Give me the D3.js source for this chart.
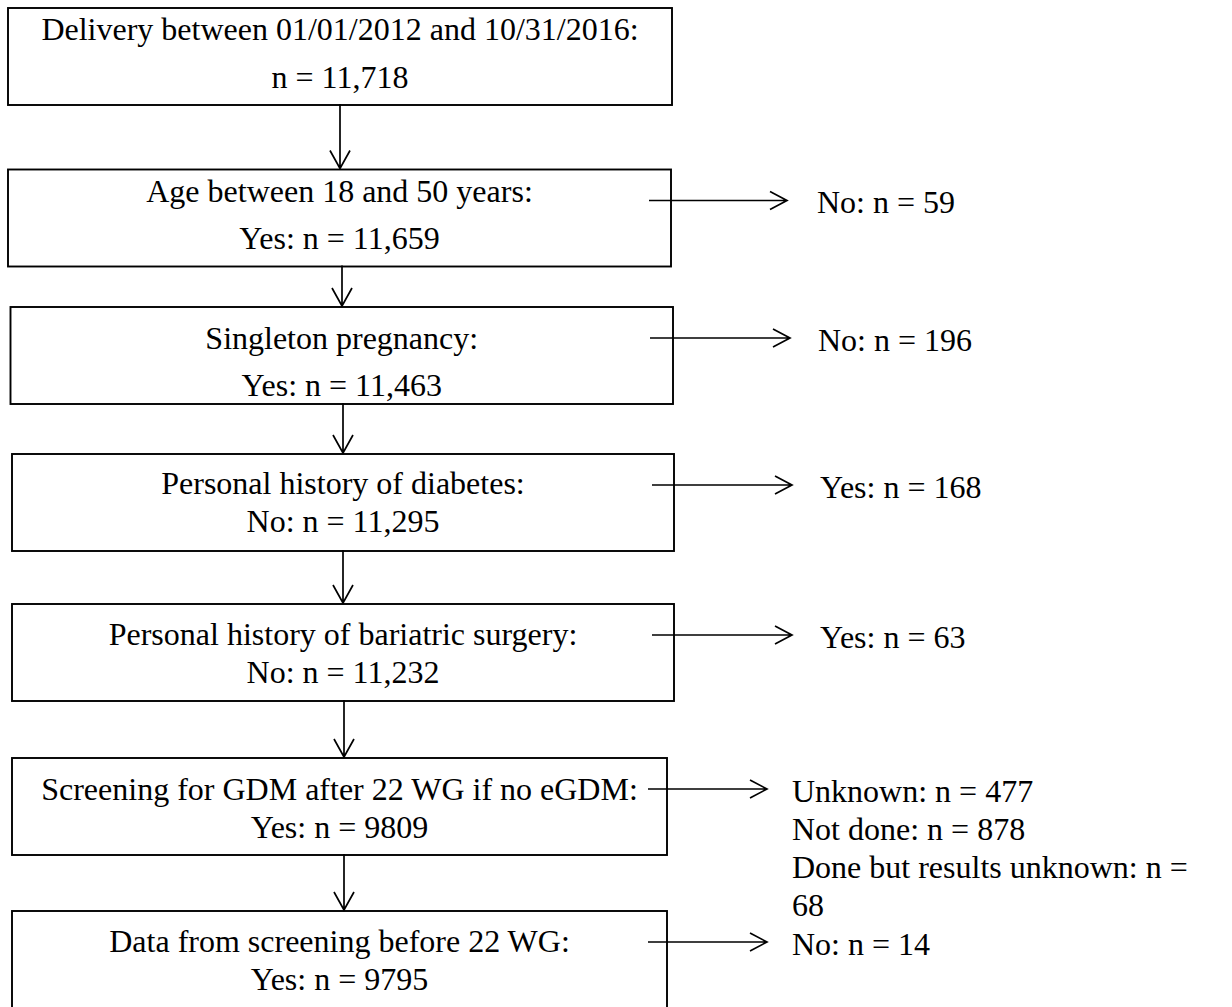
<!DOCTYPE html>
<html>
<head>
<meta charset="utf-8">
<script src="https://cdn.jsdelivr.net/npm/d3@7"></script>
<style>
  html, body { margin: 0; padding: 0; background: #fff; }
  svg { display: block; }
  .flow text { font-family: 'Liberation Serif', 'Times New Roman', serif; font-size: 32px; fill: #000; }
</style>
</head>
<body>
<div id="chart"></div>
<script>
// Étapes de sélection (texte de la boîte, effectif retenu)
const stepTitles = [
  'Delivery between 01/01/2012 and 10/31/2016:',
  'Age between 18 and 50 years:',
  'Singleton pregnancy:',
  'Personal history of diabetes:',
  'Personal history of bariatric surgery:',
  'Screening for GDM after 22 WG if no eGDM:',
  'Data from screening before 22 WG:'
];
const stepCounts = [
  'n = 11,718',
  'Yes: n = 11,659',
  'Yes: n = 11,463',
  'No: n = 11,295',
  'No: n = 11,232',
  'Yes: n = 9809',
  'Yes: n = 9795'
];
// Exclusions à droite (une entrée par étape à partir de la 2e)
const exclusions = [
  ['No: n = 59'],
  ['No: n = 196'],
  ['Yes: n = 168'],
  ['Yes: n = 63'],
  ['Unknown: n = 477', 'Not done: n = 878', 'Done but results unknown: n =', '68'],
  ['No: n = 14']
];

// mise en page
const width = 1232, height = 1007;
const boxTop = [8, 169.5, 307, 454, 604, 758, 911];
const boxLeft = [8, 8, 10.5, 12, 12, 12, 12];
const boxRight = [672, 671, 673, 674, 674, 667, 667];
const boxH = 97;
const firstLine = [31.5, 32, 41.5, 40, 41, 42, 41];
const lineGap = [48, 47, 47, 38, 38, 38, 38];
const downX = [340, 342, 343, 343, 344, 344];
const sideStart = [649, 650, 652, 652, 648, 648];
const sideEnd = [787, 790, 792, 792, 767, 767];
const sideText = [817, 818, 820, 820, 792, 792];

const y = d3.scaleLinear().domain(d3.range(stepTitles.length)).range(boxTop);

const svg = d3.select('#chart').append('svg')
  .attr('width', width).attr('height', height)
  .attr('class', 'flow');

svg.append('rect').attr('width', width).attr('height', height).attr('fill', '#fff');

const steps = stepTitles.map((t, i) => ({ i, title: t, count: stepCounts[i] }));

// boîtes
const box = svg.selectAll('g.step').data(steps).join('g').attr('class', 'step');

box.append('rect')
  .attr('x', (d) => boxLeft[d.i])
  .attr('y', (d) => y(d.i))
  .attr('width', (d) => boxRight[d.i] - boxLeft[d.i])
  .attr('height', boxH)
  .attr('fill', 'none')
  .attr('stroke', '#000')
  .attr('stroke-width', 1.9);

box.append('text')
  .attr('x', (d) => (boxLeft[d.i] + boxRight[d.i]) / 2)
  .attr('y', (d) => y(d.i) + firstLine[d.i])
  .attr('text-anchor', 'middle')
  .text((d) => d.title);

box.append('text')
  .attr('x', (d) => (boxLeft[d.i] + boxRight[d.i]) / 2)
  .attr('y', (d) => y(d.i) + firstLine[d.i] + lineGap[d.i])
  .attr('text-anchor', 'middle')
  .text((d) => d.count);

// flèches verticales entre les boîtes
const arrow = d3.line();
const links = d3.range(steps.length - 1);

svg.selectAll('path.down').data(links).join('path')
  .attr('class', 'down')
  .attr('fill', 'none')
  .attr('stroke', '#000')
  .attr('stroke-width', 1.7)
  .attr('d', (i) => {
    const x = downX[i], y0 = y(i) + boxH - 1, y1 = y(i + 1) - 1;
    return arrow([[x, y0], [x, y1]]) + arrow([[x - 10, y1 - 18], [x, y1], [x + 10, y1 - 18]]);
  });

// flèches latérales vers les exclusions
svg.selectAll('path.side').data(links).join('path')
  .attr('class', 'side')
  .attr('fill', 'none')
  .attr('stroke', '#000')
  .attr('stroke-width', 1.7)
  .attr('d', (i) => {
    const yy = y(i + 1) + 31, x0 = sideStart[i], x1 = sideEnd[i];
    return arrow([[x0, yy], [x1, yy]]) + arrow([[x1 - 17, yy - 9], [x1, yy], [x1 - 17, yy + 9]]);
  });

const side = svg.selectAll('text.excl').data(links).join('text')
  .attr('class', 'excl')
  .attr('x', (i) => sideText[i])
  .attr('y', (i) => y(i + 1) + 43.5);

side.selectAll('tspan').data((i) => exclusions[i].map((s) => ({ s, x: sideText[i] }))).join('tspan')
  .attr('x', (d) => d.x)
  .attr('dy', (d, k) => (k === 0 ? 0 : 38.3))
  .text((d) => d.s);
</script>
</body>
</html>
